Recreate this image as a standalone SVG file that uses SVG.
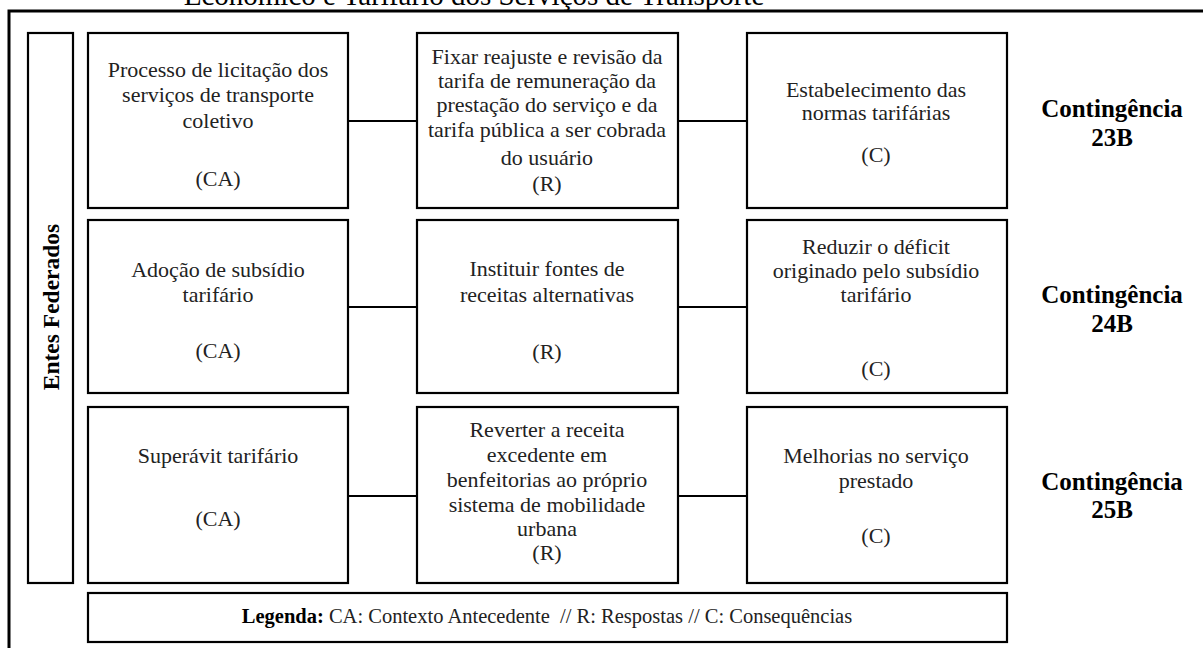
<svg xmlns="http://www.w3.org/2000/svg" width="1203" height="648" viewBox="0 0 1203 648">
<style>
.box{fill:#fff;stroke:#000;stroke-width:2.2}
.t{font-family:"Liberation Serif","Times New Roman",serif;font-size:22px;fill:#222;text-anchor:middle}
.c{font-family:"Liberation Serif","Times New Roman",serif;font-size:25px;font-weight:bold;fill:#000;text-anchor:middle}
.con line{stroke:#000;stroke-width:2}
</style>
<rect width="1203" height="648" fill="#fff"/>
<text x="474" y="5" style="font-family:'Liberation Serif',serif;font-size:29px;fill:#000;text-anchor:middle">Econômico e Tarifário dos Serviços de Transporte</text>
<path d="M9,648 V11 H1203" fill="none" stroke="#000" stroke-width="3"/>
<g id="entes">
<rect class="box" x="28" y="33" width="45" height="550"/>
<text transform="translate(59,307) rotate(-90)" style="font-family:'Liberation Serif',serif;font-size:23.5px;font-weight:bold;fill:#000;text-anchor:middle">Entes Federados</text>
</g>
<g class="con">
<line x1="348" y1="121" x2="417" y2="121"/>
<line x1="678" y1="121" x2="747" y2="121"/>
<line x1="348" y1="307" x2="417" y2="307"/>
<line x1="678" y1="307" x2="747" y2="307"/>
<line x1="348" y1="496" x2="417" y2="496"/>
<line x1="678" y1="496" x2="747" y2="496"/>
</g>
<g id="n23ca">
<rect class="box" x="88" y="33" width="260" height="175"/>
<text class="t" x="218" y="77">Processo de licitação dos</text>
<text class="t" x="218" y="102">serviços de transporte</text>
<text class="t" x="218" y="128">coletivo</text>
<text class="t" x="218" y="186">(CA)</text>
</g>
<g id="n23r">
<rect class="box" x="417" y="33" width="261" height="175"/>
<text class="t" x="547" y="64">Fixar reajuste e revisão da</text>
<text class="t" x="547" y="88">tarifa de remuneração da</text>
<text class="t" x="547" y="112">prestação do serviço e da</text>
<text class="t" x="547" y="137">tarifa pública a ser cobrada</text>
<text class="t" x="547" y="165">do usuário</text>
<text class="t" x="547" y="191">(R)</text>
</g>
<g id="n23c">
<rect class="box" x="747" y="33" width="260" height="175"/>
<text class="t" x="876" y="97">Estabelecimento das</text>
<text class="t" x="876" y="120">normas tarifárias</text>
<text class="t" x="876" y="162">(C)</text>
</g>
<g id="c23">
<text class="c" x="1112" y="117">Contingência</text>
<text class="c" x="1112" y="146">23B</text>
</g>
<g id="n24ca">
<rect class="box" x="88" y="220" width="260" height="173"/>
<text class="t" x="218" y="277">Adoção de subsídio</text>
<text class="t" x="218" y="302">tarifário</text>
<text class="t" x="218" y="358">(CA)</text>
</g>
<g id="n24r">
<rect class="box" x="417" y="220" width="261" height="173"/>
<text class="t" x="547" y="276">Instituir fontes de</text>
<text class="t" x="547" y="302">receitas alternativas</text>
<text class="t" x="547" y="359">(R)</text>
</g>
<g id="n24c">
<rect class="box" x="747" y="220" width="260" height="173"/>
<text class="t" x="876" y="254">Reduzir o déficit</text>
<text class="t" x="876" y="278">originado pelo subsídio</text>
<text class="t" x="876" y="302">tarifário</text>
<text class="t" x="876" y="376">(C)</text>
</g>
<g id="c24">
<text class="c" x="1112" y="303">Contingência</text>
<text class="c" x="1112" y="332">24B</text>
</g>
<g id="n25ca">
<rect class="box" x="88" y="407" width="260" height="176"/>
<text class="t" x="218" y="463">Superávit tarifário</text>
<text class="t" x="218" y="526">(CA)</text>
</g>
<g id="n25r">
<rect class="box" x="417" y="407" width="261" height="176"/>
<text class="t" x="547" y="437">Reverter a receita</text>
<text class="t" x="547" y="462">excedente em</text>
<text class="t" x="547" y="487">benfeitorias ao próprio</text>
<text class="t" x="547" y="512">sistema de mobilidade</text>
<text class="t" x="547" y="536">urbana</text>
<text class="t" x="547" y="560">(R)</text>
</g>
<g id="n25c">
<rect class="box" x="747" y="407" width="260" height="176"/>
<text class="t" x="876" y="463">Melhorias no serviço</text>
<text class="t" x="876" y="488">prestado</text>
<text class="t" x="876" y="543">(C)</text>
</g>
<g id="c25">
<text class="c" x="1112" y="490">Contingência</text>
<text class="c" x="1112" y="518">25B</text>
</g>
<g id="legenda">
<rect class="box" x="88" y="593" width="919" height="49"/>
<text x="547" y="623" style="font-family:'Liberation Serif',serif;font-size:20.5px;fill:#222;text-anchor:middle"><tspan font-weight="bold" fill="#000">Legenda:</tspan> CA: Contexto Antecedente &#160;// R: Respostas // C: Consequências</text>
</g>
</svg>
